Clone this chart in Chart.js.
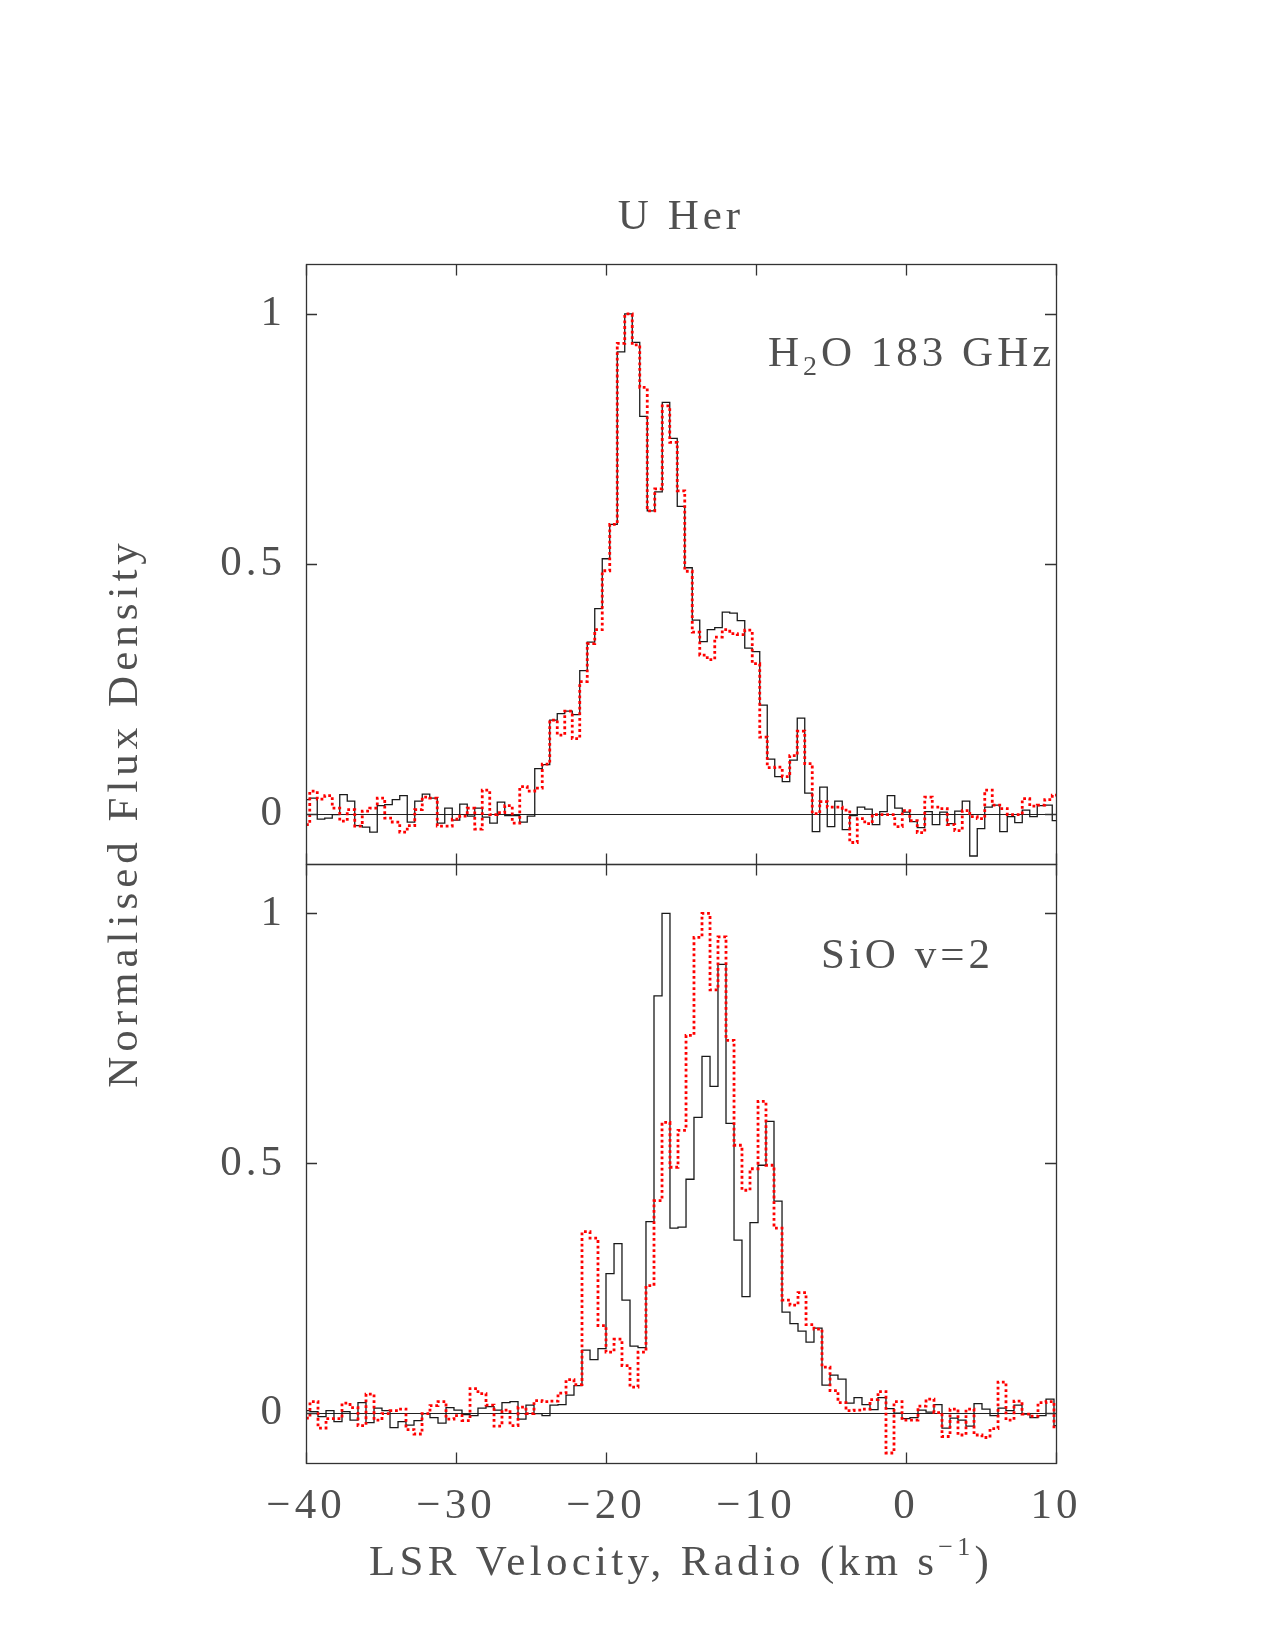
<!DOCTYPE html>
<html>
<head>
<meta charset="utf-8">
<title>U Her</title>
<script src="https://cdn.jsdelivr.net/npm/chart.js@4.4.1/dist/chart.umd.min.js"></script>
<style>
  html, body { margin: 0; padding: 0; background: #fff; }
  #wrap { position: relative; width: 1275px; height: 1650px; }
</style>
</head>
<body>
<div id="wrap"><canvas id="spec"></canvas></div>
<script>
// H2O 183 GHz spectrum, 0.5 km/s channels (black = solid, red = dotted)
const h2oVel = [
  -40, -39.5, -39, -38.5, -38, -37.5, -37, -36.5, -36, -35.5,
  -35, -34.5, -34, -33.5, -33, -32.5, -32, -31.5, -31, -30.5,
  -30, -29.5, -29, -28.5, -28, -27.5, -27, -26.5, -26, -25.5,
  -25, -24.5, -24, -23.5, -23, -22.5, -22, -21.5, -21, -20.5,
  -20, -19.5, -19, -18.5, -18, -17.5, -17, -16.5, -16, -15.5,
  -15, -14.5, -14, -13.5, -13, -12.5, -12, -11.5, -11, -10.5,
  -10, -9.5, -9, -8.5, -8, -7.5, -7, -6.5, -6, -5.5,
  -5, -4.5, -4, -3.5, -3, -2.5, -2, -1.5, -1, -0.5,
  0, 0.5, 1, 1.5, 2, 2.5, 3, 3.5, 4, 4.5,
  5, 5.5, 6, 6.5, 7, 7.5, 8, 8.5, 9, 9.5, 10
];
const h2oBlack = [
  0.028, 0.031, -0.011, -0.009, -0.002, 0.038, 0.025, -0.024, -0.027, -0.037,
  0.016, 0.018, 0.028, 0.036, -0.017, 0.025, 0.039, 0.031, -0.019, 0.011,
  -0.013, 0.019, -0.005, 0.011, -0.007, -0.019, 0.023, -0.004, -0.004, -0.017,
  -0.005, 0.090, 0.098, 0.187, 0.200, 0.205, 0.198, 0.286, 0.343, 0.410,
  0.510, 0.579, 0.924, 1.000, 0.943, 0.795, 0.606, 0.644, 0.823, 0.751,
  0.615, 0.492, 0.387, 0.344, 0.368, 0.372, 0.403, 0.401, 0.386, 0.331,
  0.324, 0.217, 0.109, 0.074, 0.064, 0.107, 0.191, 0.041, -0.036, 0.053,
  -0.026, 0.025, -0.032, -0.004, 0.013, 0.009, -0.022, 0.004, 0.036, 0.011,
  0.003, -0.016, -0.028, 0.004, -0.022, 0.003, -0.020, 0.005, 0.025, -0.085,
  -0.030, 0.013, 0.017, -0.036, -0.006, -0.018, 0.007, -0.006, 0.016, 0.017, -0.014
];
const h2oRed = [
  -0.022, 0.045, 0.029, 0.036, 0.011, -0.015, 0.008, -0.025, 0.005, 0.011,
  0.031, -0.009, -0.017, -0.037, -0.024, 0.008, 0.033, 0.031, -0.025, -0.025,
  -0.011, -0.005, 0.011, -0.031, 0.047, -0.002, 0.002, 0.016, -0.019, 0.054,
  0.045, 0.051, 0.099, 0.187, 0.157, 0.205, 0.150, 0.264, 0.340, 0.368,
  0.486, 0.579, 0.941, 1.000, 0.938, 0.853, 0.606, 0.650, 0.816, 0.743,
  0.646, 0.485, 0.363, 0.317, 0.308, 0.353, 0.368, 0.360, 0.358, 0.367,
  0.300, 0.153, 0.092, 0.093, 0.074, 0.116, 0.165, 0.100, 0.000, 0.024,
  0.013, 0.013, 0.007, -0.058, -0.010, -0.020, -0.002, -0.002, -0.002, -0.026,
  0.006, -0.014, -0.038, 0.033, 0.013, 0.010, -0.022, -0.034, 0.006, -0.006,
  -0.010, 0.047, 0.017, 0.010, -0.002, -0.002, 0.030, 0.015, 0.017, 0.028, 0.037
];

// SiO v=2 spectrum, ~0.533 km/s channels
const sioVel = [
  -40.00, -39.47, -38.93, -38.40, -37.87, -37.33, -36.80, -36.27, -35.73, -35.20,
  -34.67, -34.13, -33.60, -33.07, -32.53, -32.00, -31.47, -30.93, -30.40, -29.87,
  -29.33, -28.80, -28.27, -27.73, -27.20, -26.67, -26.13, -25.60, -25.07, -24.53,
  -24.00, -23.47, -22.93, -22.40, -21.87, -21.33, -20.80, -20.27, -19.73, -19.20,
  -18.67, -18.13, -17.60, -17.07, -16.53, -16.00, -15.47, -14.93, -14.40, -13.87,
  -13.33, -12.80, -12.27, -11.73, -11.20, -10.67, -10.13, -9.60, -9.07, -8.53,
  -8.00, -7.47, -6.93, -6.40, -5.87, -5.33, -4.80, -4.27, -3.73, -3.20,
  -2.67, -2.13, -1.60, -1.07, -0.53, 0.00, 0.53, 1.07, 1.60, 2.13,
  2.67, 3.20, 3.73, 4.27, 4.80, 5.33, 5.87, 6.40, 6.93, 7.47,
  8.00, 8.53, 9.07, 9.60, 10.13
];
const sioBlack = [
  0.005, 0.003, -0.007, 0.005, -0.017, 0.003, -0.014, 0.021, -0.019, 0.010,
  0.005, -0.029, -0.017, -0.024, -0.015, -0.001, -0.009, -0.020, 0.011, 0.006,
  -0.003, -0.005, 0.010, 0.013, 0.006, 0.021, 0.023, -0.012, 0.016, -0.001,
  -0.005, 0.016, 0.017, 0.036, 0.055, 0.126, 0.107, 0.129, 0.279, 0.339,
  0.226, 0.134, 0.131, 0.383, 0.835, 1.000, 0.370, 0.372, 0.468, 0.592,
  0.714, 0.654, 0.898, 0.580, 0.346, 0.233, 0.381, 0.496, 0.584, 0.424,
  0.202, 0.179, 0.164, 0.142, 0.170, 0.056, 0.076, 0.068, 0.020, 0.031,
  0.017, 0.007, 0.031, 0.009, 0.000, -0.011, -0.009, 0.006, 0.002, 0.017,
  -0.030, -0.010, -0.014, -0.026, 0.019, 0.008, -0.005, 0.010, 0.005, 0.016,
  -0.002, -0.009, -0.005, 0.028, -0.025
];
const sioRed = [
  -0.010, 0.023, -0.030, -0.011, -0.011, 0.020, 0.011, -0.025, 0.038, -0.014,
  -0.001, 0.005, 0.008, -0.033, -0.042, -0.001, 0.015, 0.023, -0.012, -0.005,
  -0.015, 0.049, 0.039, 0.016, -0.026, 0.006, -0.025, 0.012, -0.001, 0.025,
  0.023, 0.024, 0.040, 0.067, 0.057, 0.363, 0.350, 0.175, 0.122, 0.148,
  0.095, 0.052, 0.122, 0.255, 0.425, 0.582, 0.492, 0.566, 0.756, 0.952,
  1.000, 0.847, 0.953, 0.746, 0.536, 0.446, 0.489, 0.624, 0.496, 0.370,
  0.226, 0.216, 0.241, 0.177, 0.168, 0.092, 0.045, 0.021, 0.005, 0.006,
  0.008, 0.027, 0.043, -0.080, 0.023, -0.014, -0.014, 0.014, 0.028, 0.001,
  -0.047, 0.008, -0.044, 0.008, -0.044, -0.049, -0.031, 0.062, -0.014, 0.024,
  -0.002, -0.006, 0.021, 0.023, -0.031
];

const xTicks = [-40, -30, -20, -10, 0, 10];
const yTicks = [0, 0.5, 1];

const TEXT = '#505050';
const FAMILY = '"Liberation Serif", "Times New Roman", serif';
const FS = 43;
const TICK = 11;

function pts(xs, ys) {
  return xs.map((v, i) => ({ x: v, y: ys[i] }));
}
function minus(v) {
  return v < 0 ? '\u2212' + Math.abs(v) : String(v);
}

// text drawn in pieces so sub/superscripts can be shifted
function drawRuns(ctx, runs, x, y, align) {
  const widths = runs.map(r => {
    ctx.font = `${Math.round(FS * r[1])}px ${FAMILY}`;
    return ctx.measureText(r[0]).width;
  });
  const total = widths.reduce((a, b) => a + b, 0);
  let cx = align === 'center' ? x - total / 2 : x;
  runs.forEach((r, i) => {
    ctx.font = `${Math.round(FS * r[1])}px ${FAMILY}`;
    ctx.fillText(r[0], cx, y + r[2]);
    cx += widths[i];
  });
}

const panelPlugin = {
  id: 'panels',
  beforeDraw(chart) {
    chart.ctx.letterSpacing = '4px';
  },
  beforeDatasetsDraw(chart) {
    const { ctx, chartArea: a, scales } = chart;
    ctx.save();
    ctx.strokeStyle = '#222';
    ctx.lineWidth = 1.2;
    for (const id of ['yTop', 'yBot']) {
      const y0 = Math.round(scales[id].getPixelForValue(0)) + 0.5;
      ctx.beginPath();
      ctx.moveTo(a.left, y0);
      ctx.lineTo(a.right, y0);
      ctx.stroke();
    }
    ctx.restore();
  },
  afterDatasetsDraw(chart) {
    const { ctx, chartArea: a, scales } = chart;
    const xs = scales.x;
    ctx.save();
    ctx.strokeStyle = '#333';
    ctx.lineWidth = 1.3;
    for (const id of ['yTop', 'yBot']) {
      const ys = scales[id];
      const top = Math.round(ys.top) + 0.5, bot = Math.round(ys.bottom) + 0.5;
      ctx.strokeRect(Math.round(a.left) + 0.5, top, Math.round(a.right - a.left), bot - top);
      ctx.beginPath();
      xTicks.forEach(v => {
        const px = Math.round(xs.getPixelForValue(v)) + 0.5;
        ctx.moveTo(px, top); ctx.lineTo(px, top + TICK);
        ctx.moveTo(px, bot); ctx.lineTo(px, bot - TICK);
      });
      yTicks.forEach(v => {
        const py = Math.round(ys.getPixelForValue(v)) + 0.5;
        ctx.moveTo(a.left, py); ctx.lineTo(a.left + TICK, py);
        ctx.moveTo(a.right, py); ctx.lineTo(a.right - TICK, py);
      });
      ctx.stroke();
    }
    ctx.restore();
  },
  afterDraw(chart) {
    const { ctx, chartArea: a, scales } = chart;
    ctx.save();
    ctx.letterSpacing = '4px';
    ctx.fillStyle = TEXT;
    ctx.textAlign = 'left';
    ctx.textBaseline = 'alphabetic';
    const midX = (a.left + a.right) / 2;

    drawRuns(ctx, [['U Her', 1, 0]], midX, 229, 'center');

    const topY = scales.yTop, botY = scales.yBot;
    drawRuns(ctx, [['H', 1, 0], ['2', 0.65, 9], ['O 183 GHz', 1, 0]],
      768, topY.getPixelForValue(0.895), 'left');
    drawRuns(ctx, [['SiO v=2', 1, 0]], 821, botY.getPixelForValue(0.89), 'left');

    ctx.letterSpacing = '4.3px';
    drawRuns(ctx, [['LSR Velocity, Radio (km s', 1, 0], ['\u22121', 0.6, -20], [')', 1, 0]],
      681, 1575, 'center');

    ctx.letterSpacing = '5px';
    ctx.translate(137, 813);
    ctx.rotate(-Math.PI / 2);
    drawRuns(ctx, [['Normalised Flux Density', 1, 0]], 0, 0, 'center');
    ctx.restore();
  }
};

function yScale(weight) {
  return {
    type: 'linear',
    position: 'left',
    stack: 'panels',
    stackWeight: 1,
    weight: weight,
    min: -0.1,
    max: 1.1,
    afterBuildTicks: s => { s.ticks = yTicks.map(v => ({ value: v })); },
    afterFit: s => { s.width = 306; },
    grid: { display: false, drawTicks: false },
    border: { display: false },
    ticks: {
      padding: 20,
      color: TEXT,
      font: { family: FAMILY, size: FS },
      callback: v => String(v)
    }
  };
}

const redLine = {
  borderColor: '#ff0000',
  borderWidth: 2.8,
  borderDash: [2.8, 2.8],
  stepped: 'middle',
  pointRadius: 0,
  clip: 0,
  order: 0
};
const blackLine = {
  borderColor: '#1a1a1a',
  borderWidth: 1.3,
  stepped: 'middle',
  pointRadius: 0,
  clip: 0,
  order: 1
};

new Chart(document.getElementById('spec'), {
  type: 'line',
  data: {
    datasets: [
      Object.assign({ label: 'H2O red', data: pts(h2oVel, h2oRed), yAxisID: 'yTop' }, redLine),
      Object.assign({ label: 'SiO red', data: pts(sioVel, sioRed), yAxisID: 'yBot' }, redLine),
      Object.assign({ label: 'H2O black', data: pts(h2oVel, h2oBlack), yAxisID: 'yTop' }, blackLine),
      Object.assign({ label: 'SiO black', data: pts(sioVel, sioBlack), yAxisID: 'yBot' }, blackLine)
    ]
  },
  options: {
    responsive: true,
    maintainAspectRatio: false,
    animation: false,
    events: [],
    layout: { padding: { left: 0, top: 264, right: 219, bottom: 0 } },
    plugins: {
      legend: { display: false },
      tooltip: { enabled: false },
      title: { display: false }
    },
    scales: {
      x: {
        type: 'linear',
        min: -40,
        max: 10,
        afterBuildTicks: s => { s.ticks = xTicks.map(v => ({ value: v })); },
        afterFit: s => { s.height = 187; },
        grid: { display: false, drawTicks: false },
        border: { display: false },
        ticks: {
          padding: 18,
          color: TEXT,
          font: { family: FAMILY, size: FS },
          maxRotation: 0,
          callback: v => minus(v)
        }
      },
      yTop: yScale(2),
      yBot: yScale(1)
    }
  },
  plugins: [panelPlugin]
});
</script>
</body>
</html>
